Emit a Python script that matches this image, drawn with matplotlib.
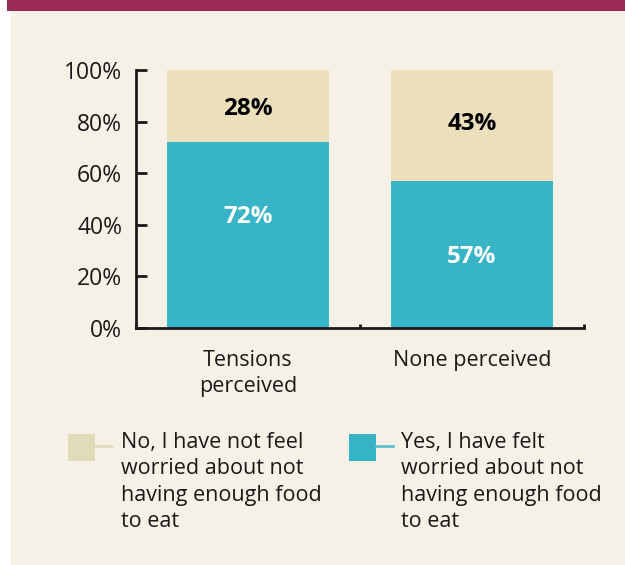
import matplotlib.pyplot as plt
import matplotlib.patches as mpatches
import matplotlib.lines as mlines

plt.rcParams['font.family'] = ['Open Sans', 'DejaVu Sans']

# data
categories = ["Tensions\nperceived", "None perceived"]
yes_worried = [72, 57]
no_worried = [28, 43]
series_names = ["No, I have not feel\nworried about not\nhaving enough food\nto eat",
                "Yes, I have felt\nworried about not\nhaving enough food\nto eat"]

teal = "#37B4C6"
beige = "#ECDFBC"
bg = "#F6F1E6"
magenta = "#9A2B56"
axcol = "#1A1A1A"

fig = plt.figure(figsize=(6.25, 5.65), dpi=100)
fig.patch.set_facecolor("white")

# cream panel and top band
W, H = 625, 565
fig.add_artist(mpatches.Rectangle((11 / W, 0), 1, 1 - 11 / H, transform=fig.transFigure,
                                  facecolor=bg, edgecolor="none", zorder=0))
fig.add_artist(mpatches.Rectangle((7 / W, 1 - 11 / H), 1, 11 / H, transform=fig.transFigure,
                                  facecolor=magenta, edgecolor="none", zorder=0))

ax = fig.add_axes([136 / W, 1 - 328 / H, (584 - 136) / W, (328 - 70) / H])
ax.set_facecolor("none")

x = list(range(len(categories)))
ax.bar(x, yes_worried, width=0.72, color=teal, zorder=2)
ax.bar(x, no_worried, width=0.72, bottom=yes_worried, color=beige, zorder=2)

# labels (small nudges to follow the original layout)
yes_nudge = [7, -1]
no_nudge = [-1, 0.5]
for i in x:
    ax.text(i, yes_worried[i] / 2 + yes_nudge[i], f"{yes_worried[i]}%", ha="center", va="center",
            color="white", fontsize=17.5, fontweight="bold", zorder=3)
    ax.text(i, yes_worried[i] + no_worried[i] / 2 + no_nudge[i], f"{no_worried[i]}%", ha="center",
            va="center", color="black", fontsize=17.5, fontweight="bold", zorder=3)

ax.set_xlim(-0.5, 1.5)
ax.set_ylim(0, 100)
ax.set_yticks([0, 20, 40, 60, 80, 100])
ax.set_yticklabels([f"{v}%" for v in range(0, 101, 20)])
ax.set_xticks(x)
ax.set_xticklabels(categories, linespacing=1.3)
ax.set_xticks([-0.5, 0.5, 1.5], minor=True)

for s in ["top", "right"]:
    ax.spines[s].set_visible(False)
for s in ["left", "bottom"]:
    ax.spines[s].set_linewidth(2)
    ax.spines[s].set_color(axcol)

ax.tick_params(axis="y", direction="in", length=8, width=2, color=axcol, pad=10,
               labelsize=16.5, labelcolor=axcol)
ax.tick_params(axis="x", which="major", length=0, pad=16, labelsize=15.5, labelcolor=axcol)
ax.tick_params(axis="x", which="minor", direction="in", length=3, width=2, color=axcol)

# legend drawn by hand
leg_items = [(68, 112, 121, "#E0DBB8", "#E2DDC0", series_names[0]),
             (349, 393, 401, teal, "#5CC0CF", series_names[1])]
for x0, x1, tx, c, lc, label in leg_items:
    fig.add_artist(mpatches.Rectangle((x0 / W, 1 - 461 / H), 27 / W, 27 / H,
                                      transform=fig.transFigure, facecolor=c, edgecolor="none"))
    fig.add_artist(mlines.Line2D([(x0 + 27) / W, x1 / W], [1 - 446 / H, 1 - 446 / H],
                                 transform=fig.transFigure, color=lc, lw=2))
    fig.text(tx / W, 1 - 432 / H, label, ha="left", va="top", fontsize=15.5,
             color=axcol, linespacing=1.33)

fig.savefig("out.png", dpi=100, facecolor=fig.get_facecolor())
